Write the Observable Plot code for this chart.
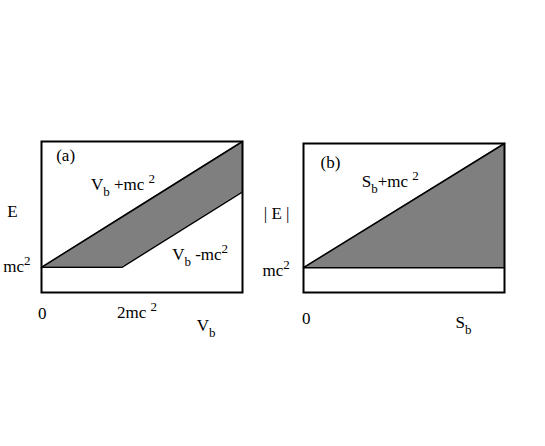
<!DOCTYPE html>
<html><head><meta charset="utf-8">
<script src="https://cdn.jsdelivr.net/npm/d3@7"></script>
<script src="https://cdn.jsdelivr.net/npm/@observablehq/plot@0.6"></script>
<style>
html,body{margin:0;padding:0;background:#fff;}
#wrap{position:relative;width:545px;height:446px;overflow:hidden;}
#wrap svg{position:absolute;top:0;}
</style></head>
<body><div id="wrap"></div>
<script>
// Panel (a): E vs V_b (units of mc^2)
const aX = [0, 2, 5];
const aUpper = [1, 3, 6];   // V_b + mc^2
const aLower = [1, 1, 4];   // max(mc^2, V_b - mc^2)
// Panel (b): |E| vs S_b
const bX = [0, 5];
const bUpper = [1, 6];      // S_b + mc^2
const bLower = [1, 1];      // mc^2

const FONT = "Liberation Serif, Times New Roman, serif";

function rich(svg){
  d3.select(svg).selectAll("text").each(function(){
    const el = this;
    const s = el.textContent;
    if (!/[_^]/.test(s)) return;
    const parts = [];
    let re = /([_^])(\w)/g, last = 0, m;
    while ((m = re.exec(s))) {
      if (m.index > last) parts.push({t: s.slice(last, m.index), k: "n"});
      parts.push({t: m[2], k: m[1] === "_" ? "sub" : "sup"});
      last = re.lastIndex;
    }
    if (last < s.length) parts.push({t: s.slice(last), k: "n"});
    while (el.firstChild) el.removeChild(el.firstChild);
    let off = 0;
    for (const p of parts) {
      const ts = document.createElementNS("http://www.w3.org/2000/svg", "tspan");
      ts.textContent = p.t;
      let target = p.k === "sub" ? 6 : p.k === "sup" ? -7 : 0;
      const dy = target - off;
      if (dy !== 0) ts.setAttribute("dy", dy);
      off = target;
      if (p.k !== "n") ts.setAttribute("font-size", "13");
      el.appendChild(ts);
    }
  });
  return svg;
}

function panel(xs, up, lo, labels, left, top){
  const data = xs.map((x, i) => ({x, up: up[i], lo: lo[i]}));
  const svg = Plot.plot({
    width: 272, height: 446,
    marginLeft: left, marginRight: 272 - left - 201,
    marginTop: top, marginBottom: 446 - 292,
    x: {domain: [0, 5], axis: null},
    y: {domain: [0, 6], axis: null},
    style: {fontFamily: FONT, fontSize: "17px", background: "transparent", overflow: "visible"},
    marks: [
      Plot.areaY(data, {x: "x", y1: "lo", y2: "up", fill: "#7f7f7f"}),
      Plot.line(data, {x: "x", y: "up", stroke: "#000", strokeWidth: 1.5}),
      Plot.line(data, {x: "x", y: "lo", stroke: "#000", strokeWidth: 1.5}),
      Plot.frame({stroke: "#000", strokeWidth: 2}),
      Plot.text(labels.filter(d => d.a === "start"), {x: "x", y: "y", text: "t", textAnchor: "start", fill: "#000", fontSize: 17}),
      Plot.text(labels.filter(d => d.a === "middle"), {x: "x", y: "y", text: "t", textAnchor: "middle", fill: "#000", fontSize: 17})
    ]
  });
  return rich(svg);
}

const wrap = document.getElementById("wrap");
const sa = panel(aX, aUpper, aLower, [
  {t: "(a)", x: 0.6, y: 5.44, a: "middle"},
  {t: "V_b +mc ^2", x: 1.23, y: 4.29, a: "start"},
  {t: "V_b -mc^2", x: 3.25, y: 1.51, a: "start"},
  {t: "E", x: -0.72, y: 3.22, a: "middle"},
  {t: "mc^2", x: -0.95, y: 1.03, a: "start"},
  {t: "0", x: 0.02, y: -0.83, a: "middle"},
  {t: "2mc ^2", x: 1.88, y: -0.8, a: "start"},
  {t: "V_b", x: 3.86, y: -1.31, a: "start"}
], 41, 141);
sa.style.left = "0px";
wrap.appendChild(sa);

const sb = panel(bX, bUpper, bLower, [
  {t: "(b)", x: 0.67, y: 5.24, a: "middle"},
  {t: "S_b+mc ^2", x: 1.45, y: 4.47, a: "start"},
  {t: "| E |", x: -0.67, y: 3.18, a: "middle"},
  {t: "mc^2", x: -1.02, y: 0.89, a: "start"},
  {t: "0", x: 0.07, y: -1.05, a: "middle"},
  {t: "S_b", x: 3.78, y: -1.21, a: "start"}
], 33, 143);
sb.style.left = "270px";
wrap.appendChild(sb);
</script>
</body></html>
